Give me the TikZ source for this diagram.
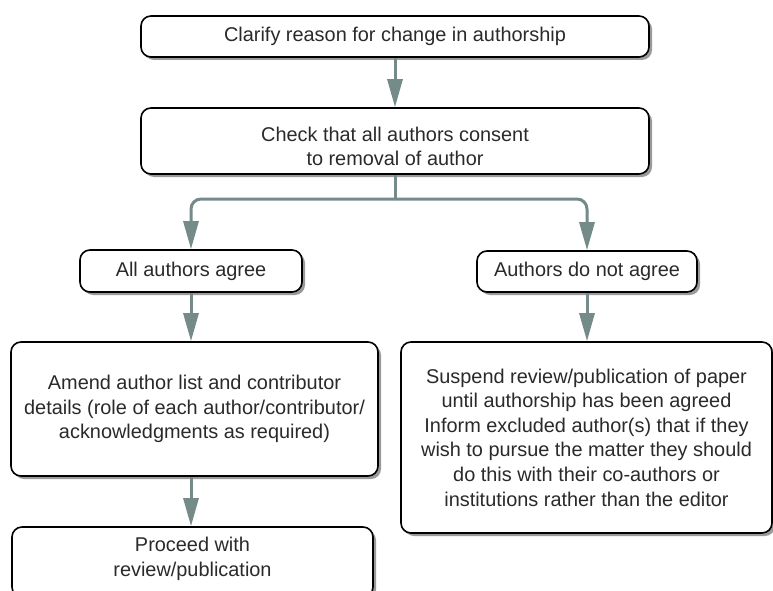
\documentclass[tikz,border=0pt]{standalone}
\usepackage{fontspec}
\setmainfont{Liberation Sans}
\usetikzlibrary{arrows.meta,shadows}
\definecolor{arrcol}{HTML}{758B89}
\definecolor{txtcol}{HTML}{2A2A2A}
\definecolor{shadcol}{HTML}{9A9A9A}
\begin{document}
\begin{tikzpicture}[x=1pt,y=-1pt,
  box/.style={draw=black, line width=1.6pt, rounded corners=10pt, fill=white,
    text=txtcol, align=center, inner sep=0pt,
    font=\fontsize{19.9}{24.6}\selectfont,
    drop shadow={shadow xshift=3pt, shadow yshift=-3pt, fill=shadcol, opacity=1}},
  arr/.style={draw=arrcol, line width=3pt, -{Triangle[length=28pt,width=15pt]}},
  link/.style={draw=arrcol, line width=3pt}
  ]
\useasboundingbox (0,0) rectangle (773,591);
\node[box, minimum width=508pt, minimum height=41pt] (b1) at (395,36.5) {Clarify reason for change in authorship};
\node[box, minimum width=508pt, minimum height=66pt, text height=49.4pt, text depth=0pt] (b2) at (395,141) {Check that all authors consent\\to removal of author};
\node[box, minimum width=222pt, minimum height=42pt] (agree) at (191,271) {All authors agree};
\node[box, minimum width=220pt, minimum height=41pt] (dis) at (587,271.5) {Authors do not agree};
\node[box, minimum width=367pt, minimum height=134pt] (amend) at (194.5,409) {Amend author list and contributor\\details (role of each author/contributor/\\acknowledgments as required)};
\node[box, minimum width=371pt, minimum height=191pt] (susp) at (586.5,437.5) {Suspend review/publication of paper\\until authorship has been agreed\\Inform excluded author(s) that if they\\wish to pursue the matter they should\\do this with their co-authors or\\institutions rather than the editor};
\node[box, minimum width=361pt, minimum height=70pt, text depth=11pt] (proc) at (192.5,562) {Proceed with\\review/publication};
\coordinate (br) at (395,199);
\draw[arr] (b1.south) -- (b2.north);
\draw[link] (b2.south) -- (br);
\draw[arr, rounded corners=10pt] (br) -| (agree.north);
\draw[arr, rounded corners=10pt] (br) -| (dis.north);
\draw[arr] (agree.south) -- (agree.south |- amend.north);
\draw[arr] (dis.south) -- (dis.south |- susp.north);
\draw[arr] (agree.south |- amend.south) -- (agree.south |- proc.north);
\end{tikzpicture}
\end{document}
